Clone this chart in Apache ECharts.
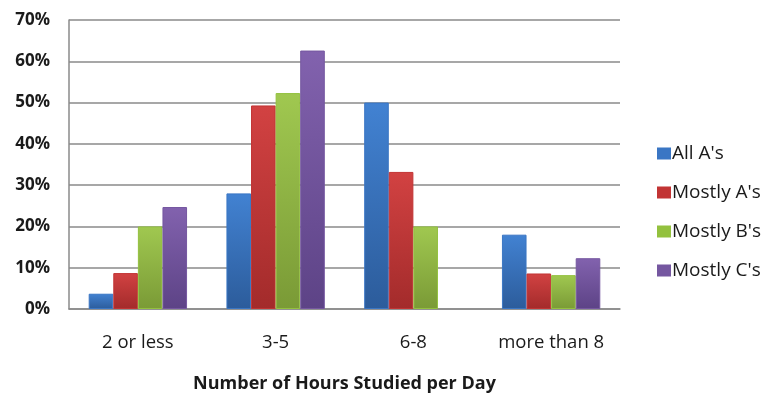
<!DOCTYPE html>
<html>
<head>
<meta charset="utf-8">
<script src="https://cdn.jsdelivr.net/npm/echarts@6/dist/echarts.min.js"></script>
<style>
  html, body { margin: 0; padding: 0; background: #fff; }
  #chart { width: 766px; height: 400px; }
</style>
</head>
<body>
<div id="chart"></div>
<script>
// Share of students (%) by daily study hours, grouped by grade band
const categories = ['2 or less', '3-5', '6-8', 'more than 8'];
const allAs = [3.7, 28, 50, 18];
const mostlyAs = [8.7, 49.3, 33.2, 8.6];
const mostlyBs = [20, 52.3, 20, 8.2];
const mostlyCs = [24.7, 62.6, null, 12.3];
const yTicks = [0, 10, 20, 30, 40, 50, 60, 70];

const FONT = '"Open Sans", Lato, sans-serif';

function grad(top, bottom) {
  return new echarts.graphic.LinearGradient(0, 0, 0, 1, [
    { offset: 0, color: top },
    { offset: 1, color: bottom }
  ]);
}

const seriesDefs = [
  { name: "All A's", data: allAs, top: '#4282d2', bottom: '#2c5c9b', border: '#3a76c4' },
  { name: "Mostly A's", data: mostlyAs, top: '#d24242', bottom: '#a32b2b', border: '#c23434' },
  { name: "Mostly B's", data: mostlyBs, top: '#a0c850', bottom: '#7a9a36', border: '#93c13e' },
  { name: "Mostly C's", data: mostlyCs, top: '#8262ae', bottom: '#5d4386', border: '#7557a0' }
];

const chart = echarts.init(document.getElementById('chart'), null, { renderer: 'canvas' });

chart.setOption({
  animation: false,
  backgroundColor: '#ffffff',
  textStyle: { fontFamily: FONT },
  grid: { left: 69, right: 146, top: 20, bottom: 91, containLabel: false },
  legend: {
    orient: 'vertical',
    left: 652,
    top: 138,
    itemWidth: 12,
    itemHeight: 10,
    itemGap: 18,
    icon: 'rect',
    textStyle: { fontFamily: FONT, fontSize: 19, color: '#1a1a1a', lineHeight: 21, padding: [0, 0, 0, -3] },
    data: seriesDefs.map(s => ({ name: s.name, itemStyle: { color: s.border } }))
  },
  xAxis: {
    type: 'category',
    data: categories,
    axisTick: { show: false },
    axisLine: { show: true, lineStyle: { color: '#8a8a8a', width: 1.5 } },
    axisLabel: { fontFamily: FONT, fontSize: 18.5, color: '#1a1a1a', margin: 24 },
    name: 'Number of Hours Studied per Day',
    nameLocation: 'middle',
    nameGap: 66,
    nameTextStyle: { fontFamily: FONT, fontSize: 18, fontWeight: 'bold', color: '#1a1a1a', verticalAlign: 'top' }
  },
  yAxis: {
    type: 'value',
    min: yTicks[0],
    max: yTicks[yTicks.length - 1],
    interval: 10,
    axisLine: { show: true, lineStyle: { color: '#8a8a8a', width: 1.5 } },
    axisTick: { show: false },
    splitLine: { show: true, lineStyle: { color: '#8a8a8a', width: 1.5 } },
    axisLabel: {
      fontFamily: FONT, fontSize: 17, fontWeight: 'bold', color: '#1a1a1a', margin: 19,
      formatter: v => v + '%'
    }
  },
  series: seriesDefs.map(s => ({
    name: s.name,
    type: 'bar',
    data: s.data,
    barGap: '0%',
    barCategoryGap: '28.6%',
    itemStyle: { color: grad(s.top, s.bottom), borderColor: s.border, borderWidth: 1 }
  }))
});
</script>
</body>
</html>
